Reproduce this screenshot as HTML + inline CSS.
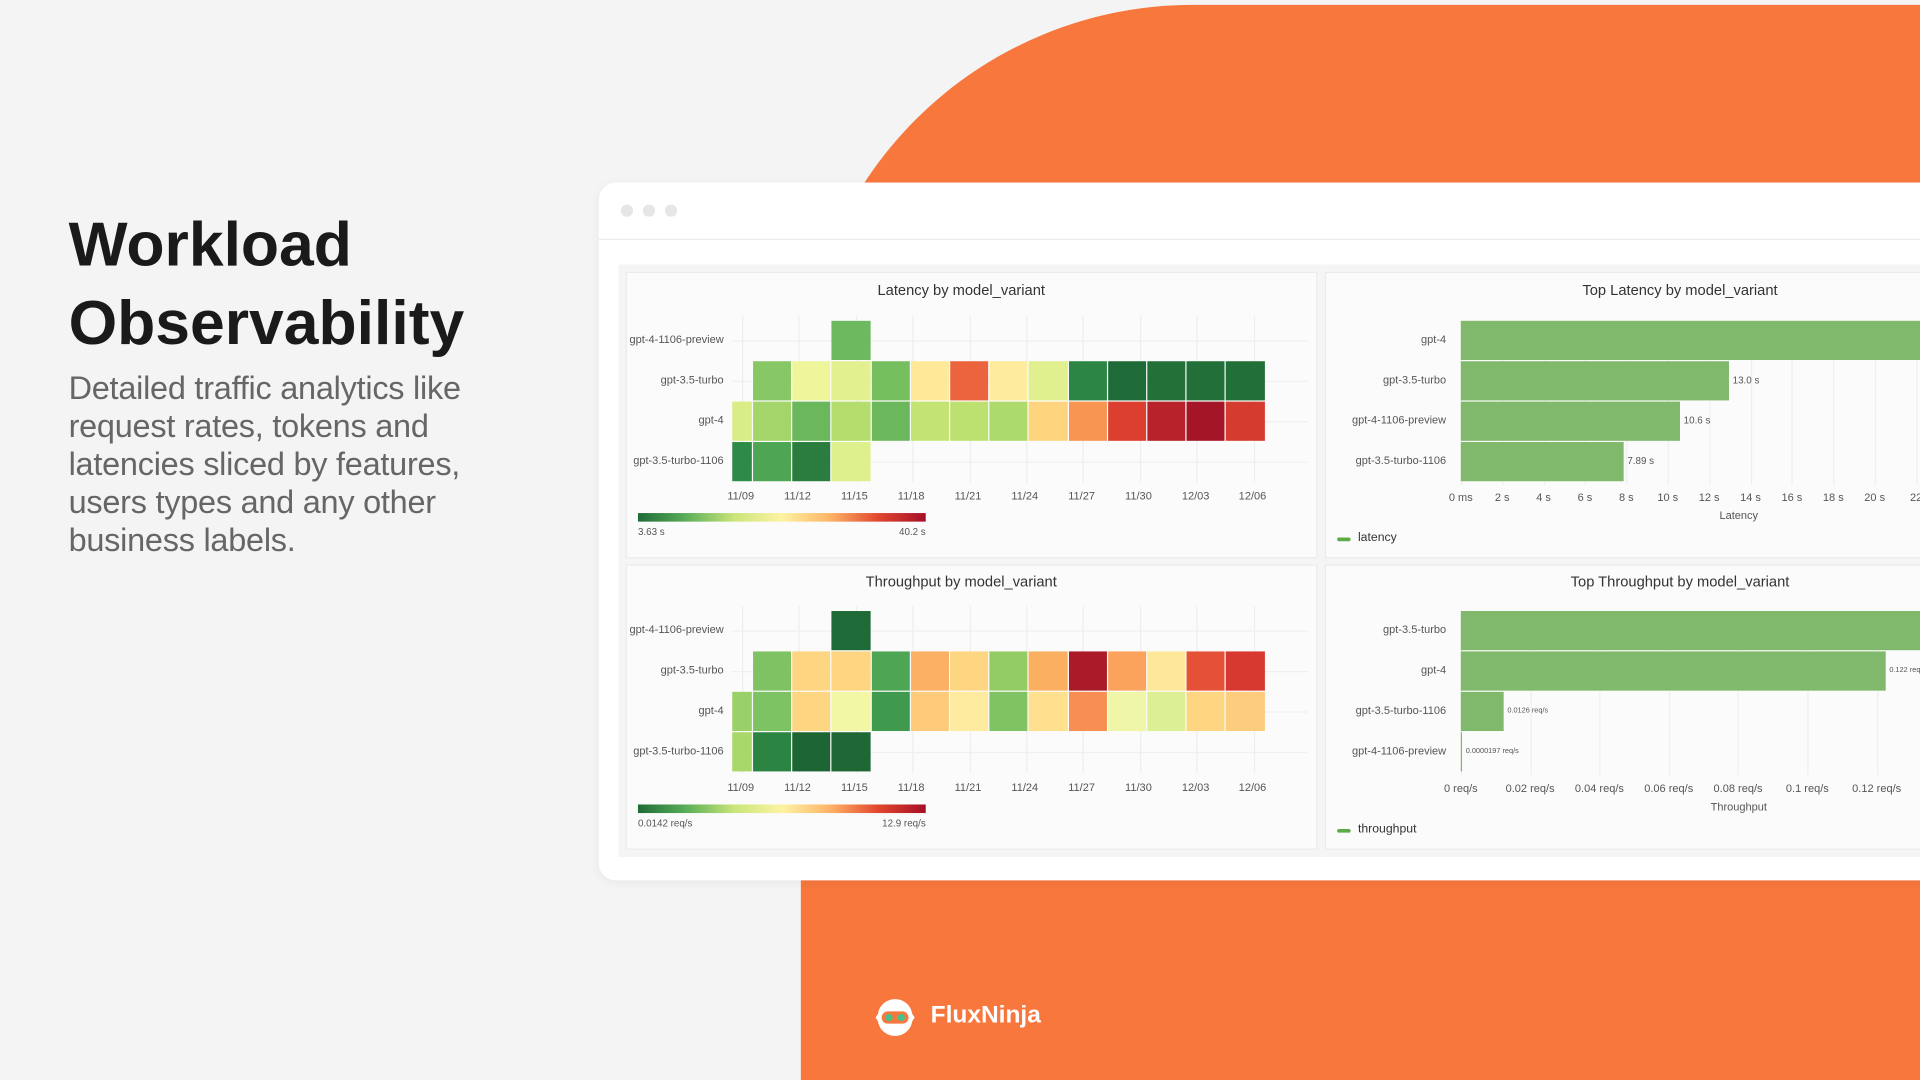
<!DOCTYPE html>
<html><head><meta charset="utf-8"><style>
html,body{margin:0;padding:0;width:1920px;height:1080px;overflow:hidden;background:#f4f4f4;}
#s{position:absolute;left:0;top:0;width:1568px;height:882px;transform:scale(1.22449);transform-origin:0 0;font-family:"Liberation Sans",sans-serif;overflow:hidden;background:#f4f4f4;}
.a{position:absolute;}
.t{position:absolute;font-size:9px;color:#555;white-space:nowrap;}
.ttl{position:absolute;font-size:12px;color:#333;white-space:nowrap;transform:translateX(-50%);}
.panel{position:absolute;background:#fbfbfb;border:1px solid #ebebeb;}
</style></head><body><div id="s">
<div class="a" style="left:654px;top:4px;width:914px;height:878px;background:#f7773d;border-top-left-radius:320px;"></div>
<div class="a" style="left:56px;top:168px;font-size:51px;font-weight:bold;color:#1a1a1a;line-height:64px;">Workload<br>Observability</div>
<div class="a" style="left:56px;top:302px;font-size:26.5px;color:#666;line-height:31px;width:390px;letter-spacing:-0.2px;">Detailed traffic analytics like request rates, tokens and latencies sliced by features, users types and any other business labels.</div>
<div class="a" style="left:489px;top:149px;width:1200px;height:570px;background:#fff;border-radius:14px;box-shadow:0 2px 8px rgba(0,0,0,0.05);"></div>
<div class="a" style="left:507px;top:167px;width:10px;height:10px;border-radius:50%;background:#e6e6e6"></div>
<div class="a" style="left:525px;top:167px;width:10px;height:10px;border-radius:50%;background:#e6e6e6"></div>
<div class="a" style="left:543px;top:167px;width:10px;height:10px;border-radius:50%;background:#e6e6e6"></div>
<div class="a" style="left:489px;top:195px;width:1100px;height:1px;background:#ececec"></div>
<div class="a" style="left:505px;top:216px;width:1100px;height:484px;background:#f5f5f5"></div>
<div class="panel" style="left:511px;top:222px;width:563px;height:232px"></div>
<div class="panel" style="left:1082px;top:222px;width:500px;height:232px"></div>
<div class="panel" style="left:511px;top:461px;width:563px;height:231px"></div>
<div class="panel" style="left:1082px;top:461px;width:500px;height:231px"></div>
<div id="c"></div>
<div class="a" style="left:714px;top:814px;width:34px;height:34px;">
<svg width="34" height="34" viewBox="0 0 34 34"><path d="M17 2 C24 2 30 7 31 14 L33 17 L31 20 C30 27 24 32 17 32 C10 32 4 27 3 20 L1 17 L3 14 C4 7 10 2 17 2Z" fill="#fff"/><rect x="6" y="12" width="22" height="10" rx="5" fill="#f7773d"/><circle cx="12" cy="17" r="3" fill="#4bbf8a"/><circle cx="22" cy="17" r="3" fill="#4bbf8a"/></svg></div>
<div class="a" style="left:760px;top:818px;font-size:20px;font-weight:bold;color:#fff;">FluxNinja</div>
</div>
<script>
var c=document.getElementById('c'),h='';
function d(s){h+=s;}
var xs=[598,615];for(var i=1;i<14;i++)xs.push(615+i*32.2);
var ticks=['11/09','11/12','11/15','11/18','11/21','11/24','11/27','11/30','12/03','12/06'];
function heat(top,rows,tickY,cbY,lo,hi,title,titleY){
 d('<div class="ttl" style="left:785px;top:'+titleY+'px">'+title+'</div>');
 for(var i=0;i<10;i++){var x=606+i*46.4;d('<div class="a" style="left:'+x+'px;top:'+(top-4)+'px;width:1px;height:'+(136)+'px;background:#eeeeee"></div>');d('<div class="t" style="left:'+(x-12)+'px;top:'+tickY+'px">'+ticks[i]+'</div>');}
 var labs=['gpt-4-1106-preview','gpt-3.5-turbo','gpt-4','gpt-3.5-turbo-1106'];
 for(var r=0;r<4;r++){var y=top+r*33;d('<div class="a" style="left:598px;top:'+(y+16)+'px;width:470px;height:1px;background:#f0f0f0"></div>');
 d('<div class="t" style="right:'+(1568-591)+'px;top:'+(y+10)+'px">'+labs[r]+'</div>');
 rows[r].forEach(function(col,j){if(!col)return;d('<div class="a" style="left:'+xs[j]+'px;top:'+y+'px;width:'+(xs[j+1]-xs[j]-1)+'px;height:32px;background:'+col+'"></div>');});}
 d('<div class="a" style="left:521px;top:'+cbY+'px;width:235px;height:7px;background:linear-gradient(90deg,#1e6b37,#5aae58,#c9e57a,#fdf3a3,#fdb466,#e2472f,#a50f26)"></div>');
 d('<div class="t" style="left:521px;top:'+(cbY+11)+'px;font-size:8px">'+lo+'</div><div class="t" style="right:'+(1568-756)+'px;top:'+(cbY+11)+'px;font-size:8px">'+hi+'</div>');
}
var n=null;
heat(262,[[n,n,n,'#6db960'],
[n,'#88c766','#eef59a','#e3f08f','#76bf5e','#fee999','#eb643e','#feeb9e','#e0f08e','#2d8545','#1f6b38','#237039','#236f39','#236f39'],
['#d9ed87','#a3d56b','#6bb75c','#b5dd6e','#6bb75c','#c3e374','#bde171','#addb6b','#fed47f','#f99553','#dc3e2f','#b8222a','#a41627','#d63b30'],
['#2e8a47','#4ea655','#2b7d3f','#def08d']],400,419,'3.63 s','40.2 s','Latency by model_variant',230);
heat(499,[[n,n,n,'#1e6b37'],
[n,'#7ec263','#fed580','#fed580','#4ea655','#fcb064','#fed580','#93cc64','#fbb061','#ab1a28','#fba35c','#fde89a','#e55136','#d7382f'],
['#99d068','#7dc263','#fed580','#f1f7a5','#3f9a4e','#fecb7a','#feeba0','#80c363','#fee08e','#f88f52','#eff6a7','#dcef93','#fed581','#fdcc7d'],
['#a8d86a','#2c8443','#1d6533','#1e6836']],638,657,'0.0142 req/s','12.9 req/s','Throughput by model_variant',468);
function bars(top,title,titleY,labs,ends,vals,tl,step,tickY,axis,leg){
 d('<div class="ttl" style="left:1372px;top:'+titleY+'px">'+title+'</div>');
 for(var i=0;i<tl.length;i++){var x=1193+i*step;d('<div class="a" style="left:'+x+'px;top:'+top+'px;width:1px;height:134px;background:#efefef"></div>');d('<div class="t" style="left:'+x+'px;top:'+tickY+'px;transform:translateX(-50%)">'+tl[i]+'</div>');}
 for(var r=0;r<4;r++){var y=top+r*33;d('<div class="t" style="right:'+(1568-1181)+'px;top:'+(y+10)+'px">'+labs[r]+'</div>');
 var w=ends[r]-1193;d('<div class="a" style="left:1193px;top:'+y+'px;width:'+w+'px;height:32px;background:#80b96b"></div>');
 if(vals[r])d('<div class="t" style="left:'+(ends[r]+3)+'px;top:'+(y+(vals[r].length>7?13:11))+'px;font-size:'+(vals[r].length>7?6:8)+'px">'+vals[r]+'</div>');}
 d('<div class="t" style="left:1420px;top:'+(tickY+15)+'px;transform:translateX(-50%)">'+axis+'</div>');
 d('<div class="a" style="left:1092px;top:'+(tickY+38)+'px;width:11px;height:3px;border-radius:2px;background:#5cab47"></div><div class="t" style="left:1109px;top:'+(tickY+33)+'px;font-size:10px;color:#333">'+leg+'</div>');
}
bars(262,'Top Latency by model_variant',230,['gpt-4','gpt-3.5-turbo','gpt-4-1106-preview','gpt-3.5-turbo-1106'],[1600,1412,1372,1326],['','13.0 s','10.6 s','7.89 s'],['0 ms','2 s','4 s','6 s','8 s','10 s','12 s','14 s','16 s','18 s','20 s','22'],33.8,401,'Latency','latency');
bars(499,'Top Throughput by model_variant',468,['gpt-3.5-turbo','gpt-4','gpt-3.5-turbo-1106','gpt-4-1106-preview'],[1600,1540,1228,1194],['','0.122 req/s','0.0126 req/s','0.0000197 req/s'],['0 req/s','0.02 req/s','0.04 req/s','0.06 req/s','0.08 req/s','0.1 req/s','0.12 req/s'],56.6,639,'Throughput','throughput');
c.innerHTML=h;
</script>
</body></html>
